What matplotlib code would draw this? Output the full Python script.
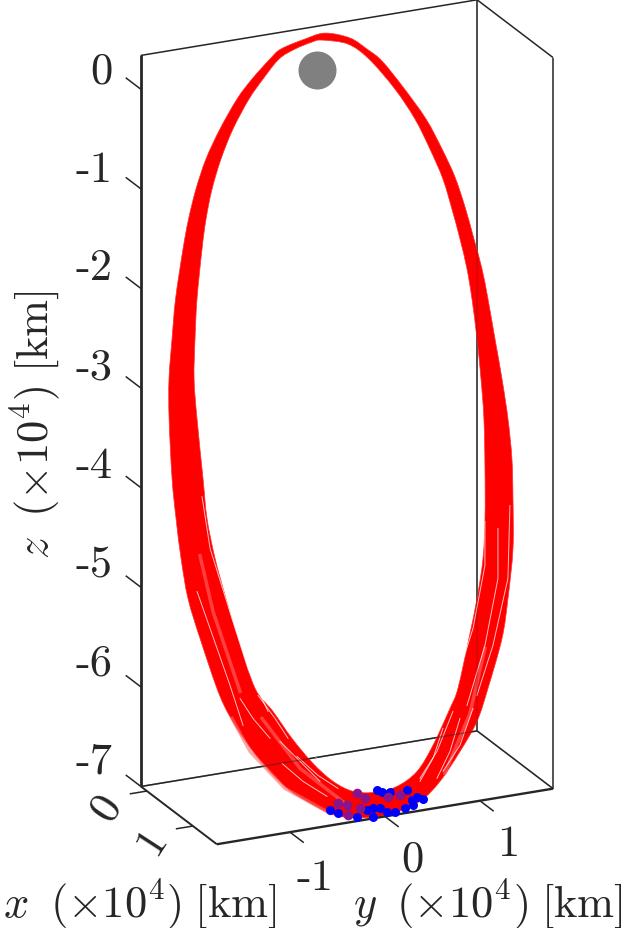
import matplotlib
matplotlib.use('Agg')
from matplotlib import pyplot as plt
from matplotlib.patches import PathPatch
from matplotlib.path import Path
from mpl_toolkits.mplot3d import proj3d

plt.rcParams['mathtext.fontset'] = 'cm'
plt.rcParams['font.family'] = ['cmr10', 'DejaVu Sans']
plt.rcParams['axes.unicode_minus'] = False

W, H = 627, 929
dark = '#262626'

# everything in units of 10^4 km
x_lim = (-0.13, 1.52)
y_lim = (-1.77, 1.77)
z_lim = (-7.0, 0.34)

x_ticks = [0, 1]
y_ticks = [-1, 0, 1]
z_ticks = [0, -1, -2, -3, -4, -5, -6, -7]

earth = (0.0, 0.02, -0.04)

# outer edge of the bundle of orbits, clockwise from the top
outer_x = [-.056, -.048, -.029, -.009, .036, .090, .141, .189, .240, .294, .345, .396, .464, .532,
           .600, .668, .736, .821, .906, .974, 1.059, 1.115, 1.166, 1.217, 1.251, 1.272, 1.278,
           1.278, 1.272, 1.251, 1.229, 1.195, 1.166, 1.127, 1.073, .974, .906, .838, .770,
           .702, .600, .532, .464, .396, .311, .260, .209, .158, .107, .056, .022, -.012, -.029, -.046]
outer_y = [.132, .391, .561, .709, .909, 1.125, 1.269, 1.382, 1.463, 1.531, 1.591, 1.629, 1.670, 1.711,
           1.741, 1.750, 1.728, 1.687, 1.593, 1.497, 1.308, 1.165, .962, .726, .499, .205, -.040,
           -.282, -.458, -.690, -.890, -1.084, -1.217, -1.367, -1.519, -1.682, -1.776, -1.816, -1.836,
           -1.845, -1.827, -1.795, -1.730, -1.660, -1.540, -1.457, -1.354, -1.224, -1.052, -.848, -.674, -.468, -.344, -.083]
outer_z = [.290, .203, .072, -.064, -.341, -.677, -.983, -1.265, -1.560, -1.873, -2.165, -2.454, -2.838, -3.222,
           -3.604, -3.983, -4.356, -4.822, -5.279, -5.641, -6.083, -6.372, -6.623, -6.869, -7.021, -7.089, -7.088,
           -7.050, -6.984, -6.834, -6.680, -6.461, -6.280, -6.039, -5.714, -5.140, -4.748, -4.365, -3.984,
           -3.605, -3.042, -2.670, -2.303, -1.936, -1.484, -1.214, -.947, -.685, -.429, -.178, -.017, .140, .215, .268]

# inner edge, same direction
inner_x = [-.044, -.037, -.012, .039, .090, .141, .192, .243, .294, .345, .396, .464, .532, .600,
           .685, .770, .838, .906, .974, 1.059, 1.093, 1.156, 1.200, 1.226, 1.236, 1.234,
           1.217, 1.187, 1.144, 1.098, 1.059, .974, .906, .838, .770, .702, .600, .532, .464,
           .396, .311, .260, .209, .158, .107, .056, .022, -.012, -.029, -.041]
inner_y = [.095, .365, .574, .823, 1.009, 1.142, 1.254, 1.324, 1.384, 1.433, 1.461, 1.481, 1.490, 1.488,
           1.458, 1.417, 1.363, 1.267, 1.149, .992, .892, .682, .493, .270, .033, -.198,
           -.400, -.596, -.796, -.974, -1.144, -1.282, -1.376, -1.458, -1.510, -1.519, -1.533, -1.531, -1.488,
           -1.434, -1.340, -1.273, -1.185, -1.066, -.915, -.722, -.558, -.373, -.197, -.012]
inner_z = [.230, .150, -.024, -.347, -.659, -.963, -1.264, -1.558, -1.850, -2.140, -2.428, -2.809, -3.187, -3.564,
           -4.031, -4.496, -4.866, -5.228, -5.586, -6.033, -6.206, -6.522, -6.738, -6.844, -6.863, -6.817,
           -6.691, -6.491, -6.224, -5.941, -5.696, -5.203, -4.811, -4.421, -4.035, -3.656, -3.089, -2.712, -2.341,
           -1.972, -1.515, -1.243, -.974, -.709, -.450, -.198, -.035, .125, .191, .228]

# gaps between orbits in the lower part of the bundle
gap_x = 1.0
gap1_y = [-1.674, -1.589, -1.358, -1.189, -.979]
gap1_z = [-3.708, -4.243, -4.982, -5.510, -5.974]
gap2_y = [-1.726, -1.589, -1.379, -1.242]
gap2_z = [-4.653, -5.046, -5.650, -6.073]
gap3_y = [1.305, 1.305, 1.179, .989]
gap3_z = [-4.428, -4.869, -5.482, -6.023]
gap4_y = [1.442, 1.442, 1.305, 1.116]
gap4_z = [-4.520, -5.021, -5.672, -6.244]
gap5_y = [1.568, 1.547, 1.389, 1.221]
gap5_z = [-4.309, -5.038, -5.685, -6.160]
gap6_y = [1.042, .937, .800]
gap6_z = [-6.363, -6.677, -6.926]
gap7_y = [.863, .758, .621]
gap7_z = [-6.435, -6.719, -6.928]
gap8_y = [-.779, -.568, -.358]
gap8_z = [-6.176, -6.410, -6.644]
gap9_y = [-.853, -.642, -.432]
gap9_z = [-6.295, -6.529, -6.763]
gap10_y = [-1.274, -1.137, -.958]
gap10_z = [-5.797, -6.020, -6.248]
gap11_y = [-1.084, -.905, -.768]
gap11_z = [-5.797, -6.056, -6.278]
gap12_y = [-.832, -.611, -.358]
gap12_z = [-6.519, -6.734, -6.925]
gap13_y = [-.674, -.453, -.242]
gap13_z = [-6.474, -6.699, -6.863]
gap14_y = [.621, .800, .968]
gap14_z = [-6.898, -6.656, -6.281]
gap15_y = [.863, 1.042, 1.179]
gap15_z = [-6.866, -6.633, -6.284]

# paler strands
pale1_y = [-1.695, -1.558, -1.274]
pale1_z = [-4.297, -4.880, -5.727]
pale2_y = [-1.358, -1.168, -.800, -.326]
pale2_z = [-5.985, -6.346, -6.775, -7.100]
pale3_y = [1.305, 1.147, .884]
pale3_z = [-5.702, -6.329, -6.889]
pale4_y = [-1.042, -.642, -.168]
pale4_z = [-6.035, -6.599, -7.025]

# end points of the runs
dots_x = 1.2
blue_y = [.068, .121, .208, .384, .437, .559, .454, .366, .261, .033, -.142, -.336, -.423, .033, -.037, .103, .489, .174]
blue_z = [-6.858, -6.883, -6.896, -6.908, -7.017, -7.026, -7.069, -7.089, -7.105, -7.036, -7.092, -7.028, -6.982, -7.120, -7.042, -7.047, -6.991, -7.092]
mixed_y = [.314, -.055, -.231, -.336, -.142, .191, -.107, -.247]
mixed_z = [-6.947, -6.922, -7.062, -6.928, -6.858, -6.944, -7.014, -6.959]

fig = plt.figure(figsize=(W / 100, H / 100), dpi=100)
ax = fig.add_axes([25 / W, 184 / H, 1, W / H], projection='3d', proj_type='ortho')
ax.computed_zorder = False
ax.view_init(elev=20.77, azim=-25)
ax.set_box_aspect((179.7, 371, 782), zoom=1.3685)
ax.set_axis_off()

x0, x1 = x_lim
y0, y1 = y_lim
z0, z1 = z_lim
ax.set_xlim(x0, x1, view_margin=0)
ax.set_ylim(y0, y1, view_margin=0)
ax.set_zlim(z0, z1, view_margin=0)


def edge(a, b, lw, zorder=1, alpha=1.0):
    ax.plot(*zip(a, b), color=dark, lw=lw, zorder=zorder, alpha=alpha, solid_capstyle='butt')


def loop_path(xs, ys, zs):
    # closed smooth path through the projected points (beziers, catmull-rom style)
    px, py, _ = proj3d.proj_transform(xs, ys, zs, ax.get_proj())
    pts = list(zip(px, py))
    n = len(pts)
    verts = [pts[0]]
    codes = [Path.MOVETO]
    for i in range(n):
        p0, p1, p2, p3 = pts[i - 1], pts[i], pts[(i + 1) % n], pts[(i + 2) % n]
        verts.append((p1[0] + (p2[0] - p0[0]) / 6, p1[1] + (p2[1] - p0[1]) / 6))
        verts.append((p2[0] - (p3[0] - p1[0]) / 6, p2[1] - (p3[1] - p1[1]) / 6))
        verts.append(p2)
        codes += [Path.CURVE4] * 3
    return verts, codes


# back of the box, behind the orbits
edge((x0, y0, z1), (x0, y1, z1), 1.1)
edge((x0, y1, z1), (x1, y1, z1), 1.1)
edge((x0, y1, z0), (x0, y1, z1), 1.1)
edge((x0, y0, z0), (x0, y1, z0), 1.1)
edge((x0, y1, z0), (x1, y1, z0), 1.1)
edge((x1, y1, z0), (x1, y1, z1), 1.1)

# outer loop one way, inner loop the other way: a ring with a hole
out_v, out_c = loop_path(outer_x, outer_y, outer_z)
in_v, in_c = loop_path(inner_x[::-1], inner_y[::-1], inner_z[::-1])
band = PathPatch(Path(out_v + in_v, out_c + in_c), facecolor='#ff0000', edgecolor='#ff3030', lw=0.5, zorder=2)
band.do_3d_projection = lambda: 0
ax.add_patch(band)

for gy, gz in [(pale1_y, pale1_z), (pale2_y, pale2_z), (pale3_y, pale3_z), (pale4_y, pale4_z)]:
    ax.plot([gap_x] * len(gy), gy, gz, color='#ff6a6a', lw=2.5, alpha=0.6, zorder=2.1)
for gy, gz in [(gap1_y, gap1_z), (gap2_y, gap2_z), (gap3_y, gap3_z), (gap4_y, gap4_z), (gap5_y, gap5_z),
               (gap6_y, gap6_z), (gap7_y, gap7_z), (gap8_y, gap8_z), (gap9_y, gap9_z), (gap10_y, gap10_z),
               (gap11_y, gap11_z), (gap12_y, gap12_z), (gap13_y, gap13_z), (gap14_y, gap14_z), (gap15_y, gap15_z)]:
    ax.plot([gap_x] * len(gy), gy, gz, color='white', lw=0.7, alpha=0.75, zorder=2.2)

# box lines showing faintly through the orbits
edge((x0, y0, z0), (x0, y1, z0), 1.1, zorder=2.5, alpha=0.45)
edge((x0, y1, z0), (x1, y1, z0), 1.1, zorder=2.5, alpha=0.3)
edge((x0, y1, z0), (x0, y1, z1), 1.1, zorder=2.5, alpha=0.2)

# front edges and axes
edge((x0, y0, z0), (x0, y0, z1), 2.0, zorder=3)
edge((x0, y0, z0), (x1, y0, z0), 1.4, zorder=3)
edge((x1, y0, z0), (x1, y1, z0), 1.7, zorder=3)

for t in z_ticks:
    edge((x0, y0, t), (x0 - 0.33, y0, t), 1.1, zorder=3)
for t in x_ticks:
    edge((t, y0, z0), (t, y0 - 0.18, z0), 1.1, zorder=3)
for t in y_ticks:
    edge((x1, t, z0), (x1 + 0.3, t, z0), 1.1, zorder=3)

ax.scatter(*earth, s=750, color='#808080', depthshade=False, linewidths=0, zorder=4)
ax.scatter([dots_x] * len(blue_y), blue_y, blue_z, s=42, color='#0000ff', depthshade=False, linewidths=0, zorder=4)
ax.scatter([dots_x] * len(mixed_y), mixed_y, mixed_z, s=48, color='#8a148c', depthshade=False, linewidths=0, zorder=4)

# the box sticks out of the square 3d axes, nothing should get cut off
for child in ax.get_children():
    child.set_clip_on(False)


def label(px, py, s, size, rotation=0, ha='center'):
    fig.text(px / W, 1 - py / H, s, fontsize=size, color=dark, ha=ha, va='center',
             rotation=rotation, rotation_mode='anchor')


# tick labels
for i, t in enumerate(z_ticks):
    label(113, 72 + i * 98.7, str(t), 32, ha='right')
for t, px, py in zip(x_ticks, [107, 152], [808, 842]):
    label(px, py, str(t), 32, rotation=57)
for t, px, py in zip(y_ticks, [315, 412, 508], [879, 860, 845]):
    label(px, py, str(t), 32)

label(139.5, 904, r'$x\;\;(\times 10^4)\;[\mathrm{km}]$', 32)
label(488, 904, r'$y\;\;(\times 10^4)\;[\mathrm{km}]$', 32)
label(35, 425, r'$z\;\;(\times 10^4)\;[\mathrm{km}]$', 32, rotation=90)

fig.savefig('out.png', dpi=100)
